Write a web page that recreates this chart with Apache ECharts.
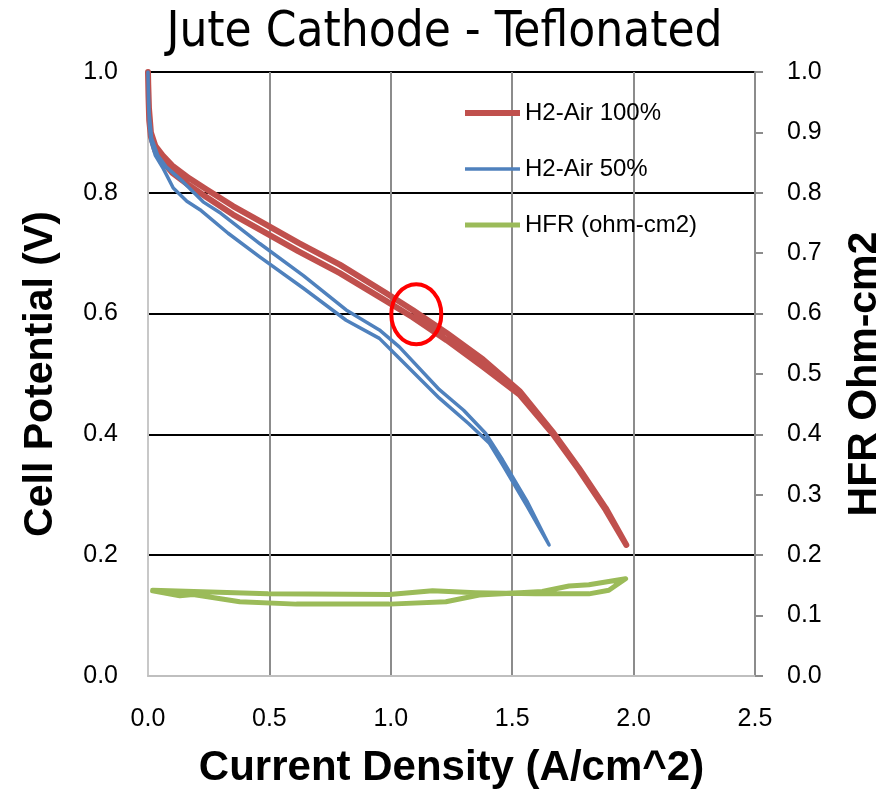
<!DOCTYPE html>
<html>
<head>
<meta charset="utf-8">
<script src="https://cdn.jsdelivr.net/npm/echarts@6/dist/echarts.min.js"></script>
<style>
  html, body { margin: 0; padding: 0; background: #ffffff; }
  #chart { width: 889px; height: 789px; }
</style>
</head>
<body>
<div id="chart"></div>
<script>
// Polarization sweeps: each list runs out to high current and back again
const seriesNames = ['H2-Air 100%', 'H2-Air 50%', 'HFR (ohm-cm2)'];

const air100 = [
  [0.000, 1.000], [0.002, 0.960], [0.005, 0.920], [0.012, 0.893], [0.030, 0.870],
  [0.060, 0.852], [0.100, 0.833], [0.170, 0.812], [0.240, 0.793], [0.350, 0.764],
  [0.470, 0.737], [0.620, 0.703], [0.790, 0.667], [0.980, 0.621], [1.090, 0.594],
  [1.230, 0.556], [1.380, 0.512], [1.530, 0.466], [1.665, 0.402], [1.775, 0.341],
  [1.885, 0.275], [1.970, 0.217],
  [1.885, 0.278], [1.775, 0.344], [1.665, 0.405], [1.530, 0.472], [1.380, 0.524],
  [1.230, 0.568], [1.090, 0.606], [0.980, 0.634], [0.790, 0.681], [0.620, 0.717],
  [0.470, 0.751], [0.350, 0.778], [0.240, 0.806], [0.170, 0.824], [0.100, 0.845],
  [0.060, 0.862], [0.030, 0.878], [0.012, 0.900], [0.004, 0.940], [0.001, 0.980]
];

const air50 = [
  [0.000, 1.000], [0.002, 0.950], [0.006, 0.910], [0.012, 0.886], [0.030, 0.862],
  [0.063, 0.840], [0.104, 0.808], [0.160, 0.786], [0.214, 0.772], [0.330, 0.733],
  [0.460, 0.694], [0.640, 0.642], [0.816, 0.589], [0.953, 0.559], [1.035, 0.526],
  [1.200, 0.460], [1.320, 0.418], [1.405, 0.386], [1.460, 0.350], [1.560, 0.282],
  [1.652, 0.217],
  [1.560, 0.290], [1.460, 0.358], [1.390, 0.402], [1.300, 0.440], [1.200, 0.474],
  [1.035, 0.545], [0.953, 0.573], [0.816, 0.606], [0.640, 0.663], [0.460, 0.716],
  [0.300, 0.766], [0.227, 0.785], [0.145, 0.818], [0.077, 0.842], [0.040, 0.862],
  [0.015, 0.890], [0.005, 0.930], [0.001, 0.975]
];

const hfr = [
  [0.019, 0.142], [0.494, 0.136], [0.994, 0.135], [1.172, 0.141], [1.350, 0.138],
  [1.597, 0.136], [1.816, 0.136], [1.898, 0.142], [1.967, 0.161],
  [1.816, 0.151], [1.734, 0.149], [1.624, 0.140], [1.364, 0.134], [1.227, 0.123],
  [0.994, 0.119], [0.611, 0.119], [0.378, 0.123], [0.186, 0.135], [0.131, 0.133],
  [0.019, 0.141]
];

// Axis ranges and tick steps
const xRange = [0, 2.5], xStep = 0.5;
const yRange = [0, 1.0], yStep = 0.2;
const y2Range = [0, 1.0], y2Step = 0.1;

// Highlighted operating point (circled)
const markPoint = [1.105, 0.599];

const chart = echarts.init(document.getElementById('chart'), null, { renderer: 'canvas' });
const tickFont = { fontFamily: 'Liberation Sans', fontSize: 25, color: '#000000' };
const nameFont = { fontFamily: 'Liberation Sans', fontSize: 41, fontWeight: 'bold', color: '#000000' };

chart.setOption({
  animation: false,
  backgroundColor: '#ffffff',
  title: {
    text: 'Jute Cathode - Teflonated',
    left: 'center',
    top: 4,
    textStyle: {
      fontFamily: '"Liberation Sans Narrow", "DejaVu Sans Condensed", "Liberation Sans"',
      fontSize: 49, fontWeight: 'normal', color: '#000000'
    }
  },
  legend: {
    orient: 'vertical',
    left: 465,
    top: 100,
    padding: 0,
    itemWidth: 55,
    itemHeight: 6,
    itemGap: 30,
    data: [
      { name: seriesNames[0], icon: 'path://M0,0L55,0L55,6L0,6Z' },
      { name: seriesNames[1], icon: 'path://M0,0L55,0L55,3.5L0,3.5Z' },
      { name: seriesNames[2], icon: 'path://M0,0L55,0L55,5L0,5Z' }
    ],
    textStyle: { fontFamily: 'Liberation Sans', fontSize: 24, lineHeight: 26, color: '#000000' }
  },
  grid: { left: 148, right: 134, top: 72, bottom: 113, containLabel: false, outerBoundsMode: 'none' },
  xAxis: {
    type: 'value',
    min: xRange[0], max: xRange[1], interval: xStep,
    name: 'Current Density (A/cm^2)',
    nameLocation: 'middle',
    nameGap: 71,
    nameTextStyle: Object.assign({}, nameFont, { fontSize: 42 }),
    axisLine: { show: true, lineStyle: { color: '#bfbfbf', width: 2 } },
    axisTick: { show: false },
    axisLabel: Object.assign({ margin: 31, formatter: v => v.toFixed(1) }, tickFont),
    splitLine: { show: true, showMinLine: false, lineStyle: { color: '#8c8c8c', width: 2 } }
  },
  yAxis: [
    {
      type: 'value',
      min: yRange[0], max: yRange[1], interval: yStep,
      name: 'Cell Potential (V)',
      nameLocation: 'middle',
      nameRotate: 90,
      nameGap: 87,
      nameTextStyle: nameFont,
      axisLine: { show: true, lineStyle: { color: '#c8c8c8', width: 2 } },
      axisTick: { show: false },
      axisLabel: Object.assign({ margin: 30, formatter: v => v.toFixed(1) }, tickFont),
      splitLine: { show: true, showMinLine: false, lineStyle: { color: '#000000', width: 2 } }
    },
    {
      type: 'value',
      position: 'right',
      min: y2Range[0], max: y2Range[1], interval: y2Step,
      name: 'HFR Ohm-cm2',
      nameLocation: 'middle',
      nameRotate: 90,
      nameGap: 89,
      nameTextStyle: nameFont,
      axisLine: { show: true, lineStyle: { color: '#8c8c8c', width: 2 } },
      axisTick: { show: true, inside: false, length: 8, lineStyle: { color: '#8c8c8c', width: 2 } },
      axisLabel: Object.assign({ margin: 32, formatter: v => v.toFixed(1) }, tickFont),
      splitLine: { show: false }
    }
  ],
  series: [
    {
      name: seriesNames[0], type: 'line', data: air100, xAxisIndex: 0, yAxisIndex: 0,
      symbol: 'none', smooth: false,
      lineStyle: { color: '#C0504D', width: 6, cap: 'round', join: 'round' },
      itemStyle: { color: '#C0504D' }
    },
    {
      name: seriesNames[1], type: 'line', data: air50, xAxisIndex: 0, yAxisIndex: 0,
      symbol: 'none', smooth: false,
      lineStyle: { color: '#4F81BD', width: 3.5, cap: 'round', join: 'round' },
      itemStyle: { color: '#4F81BD' }
    },
    {
      name: seriesNames[2], type: 'line', data: hfr, xAxisIndex: 0, yAxisIndex: 1,
      symbol: 'none', smooth: false,
      lineStyle: { color: '#9BBB59', width: 5, cap: 'round', join: 'round' },
      itemStyle: { color: '#9BBB59' }
    }
  ]
});

// Circle the highlighted point on the 100% curve
const c = chart.convertToPixel({ xAxisIndex: 0, yAxisIndex: 0 }, markPoint);
chart.setOption({
  graphic: [{
    type: 'ellipse',
    shape: { cx: c[0], cy: c[1], rx: 25, ry: 30 },
    style: { fill: 'none', stroke: '#ff0000', lineWidth: 4 },
    z: 100
  }]
});
</script>
</body>
</html>
